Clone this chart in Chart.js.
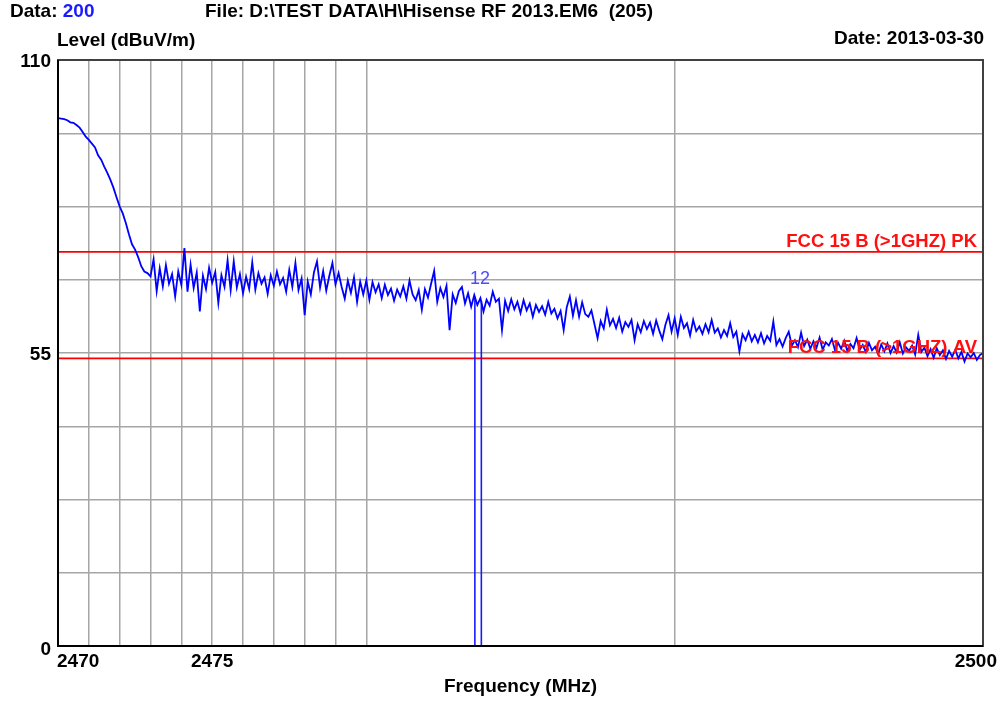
<!DOCTYPE html>
<html><head><meta charset="utf-8">
<script src="https://cdn.jsdelivr.net/npm/chart.js@4.4.0/dist/chart.umd.min.js"></script>
<style>html,body{margin:0;padding:0;background:#fff;}canvas{display:block;}</style>
</head><body>
<canvas id="c" width="1002" height="701"></canvas>
<script>
// ---- data ----
const START_MHZ = 2470;
const STEP_MHZ = 0.1;
const LEVELS = [
 99.1,99.0,98.9,98.7,98.3,98.2,97.8,97.3,96.5,95.6,
 95.0,94.3,93.6,92.1,91.3,90.0,88.8,87.5,86.0,84.2,
 82.5,81.2,79.4,77.3,75.4,74.4,73.0,71.3,70.3,70.0,
 69.4,72.6,66.6,70.9,67.5,71.5,68.0,69.8,65.6,70.3,67.8,
 74.7,66.5,71.6,67.2,70.1,62.8,69.5,67.0,71.0,68.2,
 70.2,64.4,69.6,67.4,72.4,66.8,72.2,67.3,69.8,66.2,
 69.3,67.0,72.0,66.9,70.0,68.0,69.2,66.1,69.6,67.6,
 70.3,67.9,69.1,66.5,70.6,67.4,71.9,66.8,69.0,62.1,
 68.4,66.0,70.1,72.2,67.3,70.4,66.7,69.5,71.9,67.9,
 70.0,67.4,65.2,68.6,66.3,69.2,64.6,68.4,66.0,68.6,
 65.0,68.3,66.4,67.9,65.3,67.8,65.9,67.1,64.8,66.9,
 65.6,67.5,65.2,68.6,66.0,64.9,66.8,63.1,67.0,65.4,
 68.0,70.4,64.6,67.2,65.5,67.6,59.3,66.0,64.4,66.6,
 67.4,64.3,66.2,63.7,65.9,64.0,65.3,62.8,65.0,63.9,
 66.5,64.6,65.2,59.3,64.8,62.9,65.1,63.2,64.6,62.5,
 64.9,63.0,64.3,61.8,64.0,62.7,63.8,62.2,64.6,62.4,
 63.3,61.5,62.9,59.3,63.6,65.6,62.0,64.9,61.8,64.5,
 62.3,61.8,63.0,60.4,57.8,61.0,59.6,63.1,60.2,61.4,
 59.7,61.6,59.0,60.8,59.9,61.2,57.4,60.4,58.9,61.0,
 59.5,60.7,58.6,61.1,59.2,57.6,60.3,62.1,59.0,61.5,
 58.4,61.8,59.7,60.6,58.3,61.2,59.1,60.0,58.6,60.4,
 58.9,61.2,58.8,59.6,57.9,59.3,58.2,60.6,58.0,59.0,
 55.3,58.5,57.4,59.0,57.2,58.4,57.0,58.7,56.8,58.2,
 57.3,60.9,56.5,57.6,56.2,57.8,59.0,56.4,57.4,56.1,
 58.8,56.3,57.5,55.8,57.2,56.0,57.9,55.6,57.0,56.4,
 57.6,55.5,56.9,55.8,57.3,55.4,56.7,55.9,57.8,55.6,
 56.5,55.2,56.9,55.5,56.2,54.8,56.6,55.3,56.8,55.0,
 56.3,55.1,57.0,54.9,56.1,55.4,56.4,54.7,58.4,55.2,
 56.0,54.4,55.7,54.1,55.9,54.6,55.5,53.9,55.4,54.3,
 55.6,54.0,55.2,53.4,54.9,54.2,55.0,53.7,54.6,55.0
];
const X_MIN = 2470, X_MAX = 2500;
const Y_MIN = 0, Y_MAX = 110;
const X_GRID = [2470,2471,2472,2473,2474,2475,2476,2477,2478,2479,2480,2490,2500];
const X_TICK_LABELS = [2470,2475,2500];
const Y_GRID = [0,13.75,27.5,41.25,55,68.75,82.5,96.25,110];
const Y_TICK_LABELS = [0,55,110];
const LIMIT_VALUES = [74, 54];
const LIMIT_NAMES = ['FCC 15 B (>1GHZ) PK','FCC 15 B (>1GHZ) AV'];
const MARKER_FREQS = [2483.52, 2483.73];
const MARKER_LEVELS = [65.6, 64.8];
const MARKER_LABEL = '12';

// ---- build datasets ----
const trace = LEVELS.map((v,i)=>({x: START_MHZ + i*STEP_MHZ, y: v}));
const datasets = [{
  data: trace, borderColor:'#0000ff', borderWidth:1.8, pointRadius:0, showLine:true, tension:0
}];
MARKER_FREQS.forEach((f,i)=>{
  datasets.push({data:[{x:f,y:0},{x:f,y:MARKER_LEVELS[i]}], borderColor:'#1a1aff', borderWidth:1.6, pointRadius:0, showLine:true});
});
LIMIT_VALUES.forEach(v=>{
  datasets.push({data:[{x:X_MIN,y:v},{x:X_MAX,y:v}], borderColor:'#ff0000', borderWidth:1.8, pointRadius:0, showLine:true});
});

const FONT = '"Liberation Sans", Arial, sans-serif';
const textPlugin = {
  id:'texts',
  afterDraw(chart){
    const ctx = chart.ctx, a = chart.chartArea, xs = chart.scales.x, ys = chart.scales.y;
    ctx.save();
    // frame
    ctx.strokeStyle = '#404040'; ctx.lineWidth = 2;
    ctx.strokeRect(a.left, a.top, a.right - a.left, a.bottom - a.top);
    ctx.strokeStyle = '#000'; ctx.lineWidth = 2;
    ctx.beginPath(); ctx.moveTo(a.left, a.top); ctx.lineTo(a.left, a.bottom); ctx.lineTo(a.right, a.bottom); ctx.stroke();

    ctx.textBaseline = 'middle';
    ctx.font = 'bold 19px ' + FONT;
    ctx.fillStyle = '#000'; ctx.textAlign = 'left';
    ctx.fillText('Data: ', 10, 12);
    const w = ctx.measureText('Data: ').width;
    ctx.fillStyle = '#1a1aff';
    ctx.fillText('200', 10 + w, 12);
    ctx.fillStyle = '#000';
    ctx.fillText('File: D:\\TEST DATA\\H\\Hisense RF 2013.EM6  (205)', 205, 12);
    ctx.fillText('Level (dBuV/m)', 57, 41);
    ctx.textAlign = 'right';
    ctx.fillText('Date: 2013-03-30', 984, 39);

    // y tick labels
    Y_TICK_LABELS.forEach(v=>{
      const py = ys.getPixelForValue(v);
      ctx.textAlign = 'right';
      ctx.fillText(String(v), 51, py + (v === Y_MIN ? 4 : 2));
    });
    // x tick labels
    X_TICK_LABELS.forEach((v,i)=>{
      const px = xs.getPixelForValue(v);
      let x = px;
      if (i === 0) { ctx.textAlign = 'left'; x = px - 1; }
      else if (i === X_TICK_LABELS.length - 1) { ctx.textAlign = 'right'; x = px + 14; }
      else ctx.textAlign = 'center';
      ctx.fillText(String(v), x, a.bottom + 16);
    });
    ctx.textAlign = 'center';
    ctx.fillText('Frequency (MHz)', (a.left + a.right)/2, 687);

    // limit labels
    ctx.fillStyle = '#ff1010';
    ctx.font = 'bold 18.5px ' + FONT;
    ctx.textAlign = 'right'; ctx.textBaseline = 'alphabetic';
    LIMIT_VALUES.forEach((v,i)=>{
      const py = ys.getPixelForValue(v);
      ctx.fillText(LIMIT_NAMES[i], 977, py - 5);
    });

    // marker label
    ctx.fillStyle = '#4b4bff';
    ctx.font = '18px ' + FONT;
    ctx.textAlign = 'center'; ctx.textBaseline = 'middle';
    const mx = (xs.getPixelForValue(MARKER_FREQS[0]) + xs.getPixelForValue(MARKER_FREQS[1]))/2;
    ctx.fillText(MARKER_LABEL, mx + 2, 279);
    ctx.restore();
  }
};

new Chart(document.getElementById('c'), {
  type:'scatter',
  data:{datasets},
  options:{
    responsive:false, animation:false, devicePixelRatio:1,
    layout:{padding:{left:58, right:19, top:60, bottom:55}},
    plugins:{legend:{display:false}, tooltip:{enabled:false}},
    elements:{line:{borderCapStyle:'butt'}},
    scales:{
      x:{type:'linear', min:X_MIN, max:X_MAX,
         afterBuildTicks: s => { s.ticks = X_GRID.map(v=>({value:v})); },
         ticks:{display:false, padding:0}, grid:{color:'#a6a6a6', lineWidth:1.5, drawTicks:false}, border:{display:false}},
      y:{type:'linear', min:Y_MIN, max:Y_MAX,
         afterBuildTicks: s => { s.ticks = Y_GRID.map(v=>({value:v})); },
         ticks:{display:false, padding:0}, grid:{color:'#a6a6a6', lineWidth:1.5, drawTicks:false}, border:{display:false}}
    }
  },
  plugins:[textPlugin]
});
</script>
</body></html>
